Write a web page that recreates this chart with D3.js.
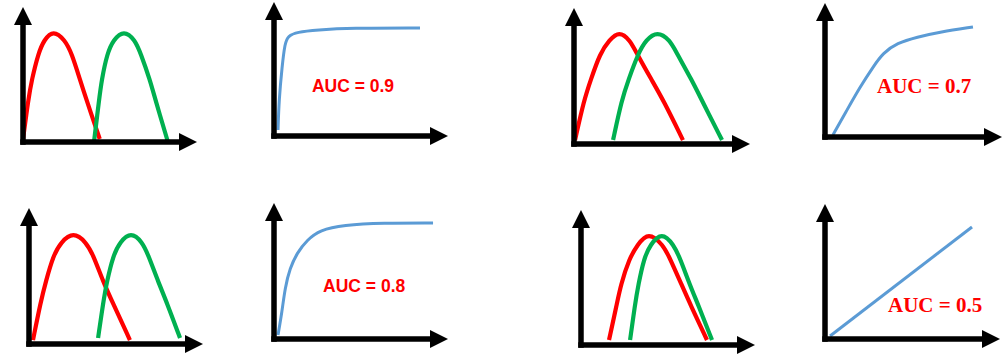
<!DOCTYPE html>
<html>
<head>
<meta charset="utf-8">
<script src="https://cdn.jsdelivr.net/npm/d3@7"></script>
<style>
  html, body { margin: 0; padding: 0; background: #fff; }
</style>
</head>
<body>
<svg id="chart" width="1003" height="362"></svg>
<script>
// score distributions, [score, density] as fraction of each axis
const negTopLeft = [[0, .02], [.030, .311], [.050, .459], [.088, .657], [.121, .756], [.174, .83], [.241, .756], [.280, .657], [.328, .459], [.365, .311], [.441, .022]];
const posTopLeft = [[.408, 0], [.437, .311], [.452, .459], [.484, .657], [.519, .756], [.580, .83], [.644, .756], [.676, .657], [.730, .459], [.761, .311], [.833, 0]];

const negTopRight = [[.006, .029], [.057, .324], [.095, .471], [.148, .667], [.201, .765], [.257, .83], [.318, .765], [.356, .667], [.441, .471], [.507, .324], [.619, .029]];
const posTopRight = [[.222, .029], [.271, .324], [.309, .471], [.365, .667], [.409, .765], [.473, .83], [.545, .765], [.584, .667], [.669, .471], [.725, .324], [.841, .029]];

const negBottomLeft = [[.023, .029], [.067, .309], [.096, .456], [.140, .652], [.184, .750], [.255, .825], [.328, .750], [.370, .652], [.427, .456], [.479, .309], [.580, .029]];
const posBottomLeft = [[.397, .044], [.427, .309], [.447, .456], [.484, .652], [.523, .750], [.586, .825], [.651, .750], [.686, .652], [.743, .456], [.791, .309], [.868, .044]];

const negBottomRight = [[.161, .037], [.205, .296], [.228, .444], [.278, .642], [.324, .741], [.387, .84], [.473, .741], [.511, .642], [.579, .444], [.630, .296], [.724, .037]];
const posBottomRight = [[.282, .037], [.310, .296], [.329, .444], [.362, .642], [.397, .741], [.464, .84], [.534, .741], [.569, .642], [.626, .444], [.674, .296], [.753, .037]];

// ROC curves, [FPR, TPR] as fraction of each axis
const roc09 = [[.023, .045], [.029, .269], [.046, .515], [.063, .694], [.080, .746], [.132, .776], [.247, .791], [.437, .806], [.839, .806]];
const roc07 = [[.045, .015], [.124, .201], [.198, .373], [.271, .522], [.328, .627], [.407, .701], [.520, .746], [.650, .784], [.836, .821]];
const roc08 = [[.023, .029], [.046, .199], [.063, .375], [.092, .522], [.132, .632], [.190, .728], [.264, .801], [.397, .838], [.626, .853], [.914, .853]];
const roc05 = [[.029, .022], [.840, .830]];

const aucLabels = ["AUC = 0.9", "AUC = 0.7", "AUC = 0.8", "AUC = 0.5"];

const colors = { neg: "#ff0000", pos: "#00b050", roc: "#5b9bd5", label: "#ff0000" };

const panels = [
  { left: 23,  bottom: 142, xTip: 197,  yTip: 7,   series: [[negTopLeft, "neg"], [posTopLeft, "pos"]] },
  { left: 274, bottom: 136, xTip: 448,  yTip: 2,   series: [[roc09, "roc"]], label: 0, lx: .218, ly: .328, font: "'Liberation Sans', Arial, sans-serif", size: 17.5 },
  { left: 574, bottom: 144, xTip: 750,  yTip: 8,   series: [[negTopRight, "neg"], [posTopRight, "pos"]] },
  { left: 825, bottom: 137, xTip: 1002, yTip: 3,   series: [[roc07, "roc"]], label: 1, lx: .294, ly: .328, font: "'Liberation Serif', 'Times New Roman', serif", size: 21 },
  { left: 29,  bottom: 344, xTip: 203,  yTip: 208, series: [[negBottomLeft, "neg"], [posBottomLeft, "pos"]] },
  { left: 274, bottom: 339, xTip: 448,  yTip: 203, series: [[roc08, "roc"]], label: 2, lx: .282, ly: .346, font: "'Liberation Sans', Arial, sans-serif", size: 17.5 },
  { left: 581, bottom: 345, xTip: 755,  yTip: 210, series: [[negBottomRight, "neg"], [posBottomRight, "pos"]] },
  { left: 825, bottom: 339, xTip: 1000, yTip: 204, series: [[roc05, "roc"]], label: 3, lx: .360, ly: .200, font: "'Liberation Serif', 'Times New Roman', serif", size: 21 }
];

const svg = d3.select("#chart");
const headLen = 18, headHalf = 9, axisW = 5.5;

panels.forEach(function(p) {
  const x = d3.scaleLinear().domain([0, 1]).range([p.left, p.xTip]);
  const y = d3.scaleLinear().domain([0, 1]).range([p.bottom, p.yTip]);
  const g = svg.append("g");

  const line = d3.line()
    .curve(d3.curveBasis)
    .x(function(d) { return x(d[0]); })
    .y(function(d) { return y(d[1]); });

  p.series.forEach(function(s) {
    g.append("path")
      .attr("d", line(s[0]))
      .style("fill", "none")
      .style("stroke", colors[s[1]])
      .style("stroke-width", s[1] === "roc" ? 3 : 4.2);
  });

  // axes with arrow heads
  g.append("line")
    .attr("x1", x(0)).attr("y1", y(0) + axisW / 2)
    .attr("x2", x(0)).attr("y2", y(1) + headLen - 1)
    .style("stroke", "#000").style("stroke-width", axisW);
  g.append("line")
    .attr("x1", x(0) - axisW / 2).attr("y1", y(0))
    .attr("x2", x(1) - headLen + 1).attr("y2", y(0))
    .style("stroke", "#000").style("stroke-width", axisW);
  g.append("path")
    .attr("d", d3.line()([[x(0), y(1)], [x(0) - headHalf, y(1) + headLen], [x(0) + headHalf, y(1) + headLen]]) + "Z")
    .style("fill", "#000");
  g.append("path")
    .attr("d", d3.line()([[x(1), y(0)], [x(1) - headLen, y(0) - headHalf], [x(1) - headLen, y(0) + headHalf]]) + "Z")
    .style("fill", "#000");

  if (p.label !== undefined) {
    g.append("text")
      .attr("x", x(p.lx))
      .attr("y", y(p.ly))
      .text(aucLabels[p.label])
      .style("font-family", p.font)
      .style("font-weight", "bold")
      .style("font-size", p.size + "px")
      .style("fill", colors.label);
  }
});
</script>
</body>
</html>
